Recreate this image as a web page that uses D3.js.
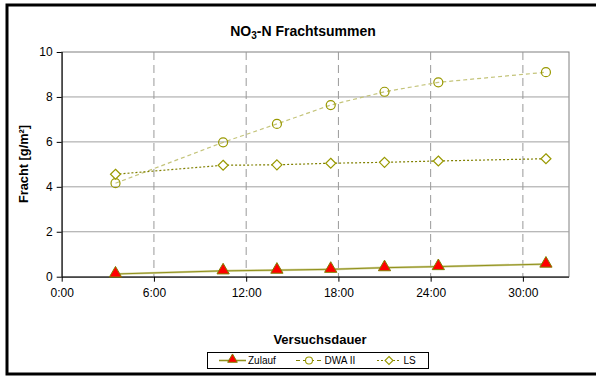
<!DOCTYPE html>
<html><head><meta charset="utf-8">
<script src="https://cdn.jsdelivr.net/npm/d3@7"></script>
<style>
html,body{margin:0;padding:0;background:#fff;}
svg{display:block;font-family:"Liberation Sans",Arial,sans-serif;}
</style></head>
<body>
<svg id="c" width="596" height="377"></svg>
<script>
const hours = [3.5, 10.5, 14, 17.5, 21, 24.5, 31.5];
const zulauf = [0.12, 0.26, 0.29, 0.33, 0.40, 0.45, 0.56];
const dwa = [4.16, 5.98, 6.8, 7.64, 8.23, 8.65, 9.1];
const ls = [4.56, 4.96, 4.98, 5.05, 5.09, 5.15, 5.25];
const xTicks = [0, 6, 12, 18, 24, 30];
const yTicks = [0, 2, 4, 6, 8, 10];
const seriesNames = ["Zulauf", "DWA II", "LS"];

const svg = d3.select("#c");
const L = 61.7, R = 569, T = 52, B = 276.7;
const x = d3.scaleLinear().domain([0, 33]).range([L, R]);
const y = d3.scaleLinear().domain([0, 10]).range([B, T]);

// outer border
svg.append("rect").attr("x", 7).attr("y", 5).attr("width", 600).attr("height", 369)
  .attr("fill", "none").attr("stroke", "#000").attr("stroke-width", 3);

// plot area
svg.append("rect").attr("x", L).attr("y", T).attr("width", R - L).attr("height", B - T)
  .attr("fill", "#fff").attr("stroke", "#808080").attr("stroke-width", 1);

// horizontal gridlines
svg.append("g").selectAll("line").data(yTicks.filter(d => d > 0 && d < 10)).join("line")
  .attr("x1", L).attr("x2", R).attr("y1", d => y(d)).attr("y2", d => y(d))
  .attr("stroke", "#a0a0a0").attr("stroke-width", 1);

// vertical dashed gridlines
svg.append("g").selectAll("line").data(xTicks.filter(d => d > 0)).join("line")
  .attr("x1", d => x(d)).attr("x2", d => x(d)).attr("y1", T).attr("y2", B)
  .attr("stroke", "#999").attr("stroke-width", 1).attr("stroke-dasharray", "8,5");

// axes
const xAxis = d3.axisBottom(x).tickValues(xTicks).tickFormat(d => d + ":00").tickSize(5).tickPadding(7);
const gx = svg.append("g").attr("transform", `translate(0,${B})`).call(xAxis);
gx.select(".domain").attr("stroke", "#000").attr("d", `M${L},0.5H${R}`);
gx.selectAll("text").attr("font-size", 12).attr("fill", "#000").attr("font-family", "Liberation Sans, Arial, sans-serif");

const yAxis = d3.axisLeft(y).tickValues(yTicks).tickSize(5).tickPadding(4);
const gy = svg.append("g").attr("transform", `translate(${L},0)`).call(yAxis);
gy.select(".domain").attr("stroke", "#000").attr("d", `M0.5,${T}V${B}`);
gy.selectAll("text").attr("font-size", 12).attr("fill", "#000").attr("font-family", "Liberation Sans, Arial, sans-serif");

// lines
const line = d3.line().x((d, i) => x(hours[i])).y(d => y(d));
svg.append("path").datum(zulauf).attr("d", line).attr("fill", "none")
  .attr("stroke", "#cfcf95").attr("stroke-width", 2.2);
svg.append("path").datum(zulauf).attr("d", line).attr("fill", "none")
  .attr("stroke", "#8a8a10").attr("stroke-width", 0.9);
svg.append("path").datum(dwa).attr("d", line).attr("fill", "none")
  .attr("stroke", "#c4c47a").attr("stroke-width", 1.2).attr("stroke-dasharray", "4,3");
svg.append("path").datum(ls).attr("d", line).attr("fill", "none")
  .attr("stroke", "#808000").attr("stroke-width", 1.2).attr("stroke-dasharray", "2,2");

// markers
const tri = d3.symbol().type(d3.symbolTriangle).size(65);
const dia = (cx, cy, r) => `M${cx},${cy - r}L${cx + r},${cy}L${cx},${cy + r}L${cx - r},${cy}Z`;

svg.append("g").selectAll("path").data(zulauf).join("path")
  .attr("d", tri).attr("transform", (d, i) => `translate(${x(hours[i])},${y(d) - 0.5})`)
  .attr("fill", "#ff0000").attr("stroke", "#808000").attr("stroke-width", 1);
svg.append("g").selectAll("circle").data(dwa).join("circle")
  .attr("cx", (d, i) => x(hours[i])).attr("cy", d => y(d)).attr("r", 4.5)
  .attr("fill", "none").attr("stroke", "#999900").attr("stroke-width", 1.2);
svg.append("g").selectAll("path").data(ls).join("path")
  .attr("d", (d, i) => dia(x(hours[i]), y(d), 5))
  .attr("fill", "#fff").attr("stroke", "#999900").attr("stroke-width", 1.2);

// title
const title = svg.append("text").attr("x", 303).attr("y", 36).attr("text-anchor", "middle")
  .attr("font-size", 14).attr("font-weight", "bold").attr("fill", "#000");
title.append("tspan").text("NO");
title.append("tspan").attr("font-size", 10).attr("dy", 3).text("3");
title.append("tspan").attr("dy", -3).text("-N Frachtsummen");

// axis titles
svg.append("text").attr("transform", "translate(28,164) rotate(-90)").attr("text-anchor", "middle")
  .attr("font-size", 12.8).attr("font-weight", "bold").attr("fill", "#000").text("Fracht [g/m²]");
svg.append("text").attr("x", 320).attr("y", 344).attr("text-anchor", "middle")
  .attr("font-size", 13).attr("font-weight", "bold").attr("fill", "#000").text("Versuchsdauer");

// legend
const lg = svg.append("g");
lg.append("rect").attr("x", 207.5).attr("y", 352.5).attr("width", 221).attr("height", 16)
  .attr("fill", "#fff").attr("stroke", "#000").attr("stroke-width", 1);
const ly = 360.5;
const items = [
  {x1: 219, x2: 246, mx: 232.5, tx: 248},
  {x1: 296, x2: 321, mx: 309, tx: 324.5},
  {x1: 377, x2: 401, mx: 389, tx: 403.5}
];
// Zulauf
lg.append("line").attr("x1", items[0].x1).attr("x2", items[0].x2).attr("y1", ly).attr("y2", ly)
  .attr("stroke", "#cfcf95").attr("stroke-width", 2.2);
lg.append("line").attr("x1", items[0].x1).attr("x2", items[0].x2).attr("y1", ly).attr("y2", ly)
  .attr("stroke", "#8a8a10").attr("stroke-width", 0.9);
lg.append("path").attr("d", d3.symbol().type(d3.symbolTriangle).size(40))
  .attr("transform", `translate(${items[0].mx},${ly - 1})`)
  .attr("fill", "#ff0000").attr("stroke", "#808000").attr("stroke-width", 1);
// DWA II
lg.append("line").attr("x1", items[1].x1).attr("x2", items[1].x2).attr("y1", ly).attr("y2", ly)
  .attr("stroke", "#808000").attr("stroke-width", 1.2).attr("stroke-dasharray", "4,3");
lg.append("circle").attr("cx", items[1].mx).attr("cy", ly).attr("r", 3.5)
  .attr("fill", "#fff").attr("stroke", "#999900").attr("stroke-width", 1.1);
// LS
lg.append("line").attr("x1", items[2].x1).attr("x2", items[2].x2).attr("y1", ly).attr("y2", ly)
  .attr("stroke", "#808000").attr("stroke-width", 1.2).attr("stroke-dasharray", "2,2");
lg.append("path").attr("d", dia(items[2].mx, ly, 4))
  .attr("fill", "#fff").attr("stroke", "#999900").attr("stroke-width", 1.1);
lg.selectAll("text.l").data(seriesNames).join("text").attr("class", "l")
  .attr("x", (d, i) => items[i].tx).attr("y", ly + 3.5).attr("font-size", 10).attr("fill", "#000").text(d => d);
</script>
</body></html>
